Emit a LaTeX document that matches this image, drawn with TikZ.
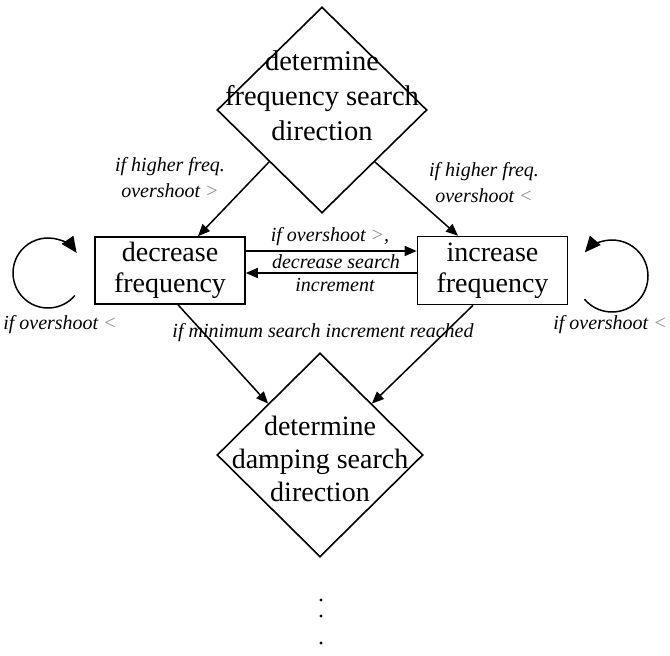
\documentclass[tikz,border=0pt]{standalone}
\usepackage{fontspec}
\setmainfont{Liberation Serif}
\usetikzlibrary{shapes.geometric,arrows.meta}
\begin{document}
\begin{tikzpicture}[x=1pt,y=1pt,
  dia/.style={draw,line width=1.6pt,diamond,aspect=1,inner sep=0pt},
  boxnode/.style={draw,line width=1.6pt,rectangle,minimum width=150pt,minimum height=67pt,inner sep=0pt,align=center,font=\fontsize{28}{31}\selectfont},
  maintext/.style={align=center,inner sep=0pt},
  lbl/.style={font=\fontsize{20}{26}\selectfont\itshape,align=center,inner sep=0pt},
  conn/.style={line width=1.5pt,-{Triangle[length=12pt,width=10pt]}},
  loopc/.style={line width=1.5pt,-{Triangle[length=16pt,width=14pt]}}
]
\useasboundingbox (0,0) rectangle (670,656);
\fill[white] (0,0) rectangle (670,656);

% decision diamonds
\node[dia,minimum width=210pt,minimum height=206pt] (d1) at (322,546) {};
\node[maintext,font=\fontsize{28.5}{35}\selectfont] (d1t) at (322,560) {determine\\frequency search\\direction};
\node[dia,minimum width=206pt,minimum height=204pt] (d2) at (320,201) {};
\node[maintext,font=\fontsize{28}{33}\selectfont] (d2t) at (320,197) {determine\\damping search\\direction};

% process boxes
\node[boxnode] (dec) at (170,385.5) {decrease\\frequency};
\node[boxnode,minimum height=68pt] (inc) at (492.5,385.5) {increase\\frequency};

% connectors
\draw[conn] (d1.south west) -- ([xshift=28pt]dec.north);
\draw[conn] (d1.south east) -- ([xshift=-34.5pt]inc.north);
\draw[conn] ([yshift=19.5pt]dec.east) -- ([yshift=19.5pt]inc.west);
\draw[conn] ([yshift=-2.5pt]inc.west) -- ([yshift=-2.5pt]dec.east);
\draw[conn] ([xshift=8pt]dec.south) -- (d2.north west);
\draw[conn] ([xshift=-19.5pt]inc.south) -- (d2.north east);

% self loops
\coordinate (lc) at (48,383);
\coordinate (rc) at (612,380);
\draw[loopc] ([shift={(-40:35)}]lc) arc[start angle=-40,end angle=-325,radius=35];
\draw[loopc] ([shift={(220:36)}]rc) arc[start angle=220,end angle=499,radius=36];

% labels
\node[lbl] (ltl) at (170,478) {if higher freq.\\overshoot {\color{black!45}>}};
\node[lbl] (ltr) at (484,473) {if higher freq.\\overshoot {\color{black!45}<}};
\node[lbl] (lm1) at (330,419) {if overshoot {\color{black!45}>},};
\node[lbl] (lm2) at (336,394) {decrease search};
\node[lbl] (lm3) at (335,371) {increment};
\node[lbl] (lbot) at (323,323) {if minimum search increment reached};
\node[lbl] (lll) at (60,331) {if overshoot {\color{black!45}<}};
\node[lbl] (llr) at (610,331) {if overshoot {\color{black!45}<}};

% continuation dots
\fill (321,56) circle (1.7pt);
\fill (321,40) circle (1.7pt);
\fill (321,13) circle (1.7pt);
\end{tikzpicture}
\end{document}
